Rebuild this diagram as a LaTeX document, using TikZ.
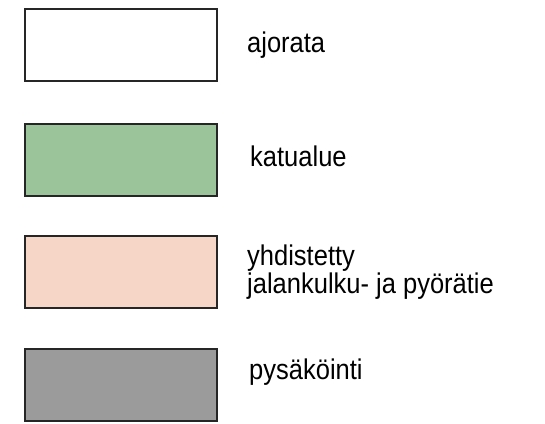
\documentclass[tikz,border=0pt]{standalone}
\usepackage{fontspec}
\setmainfont{Liberation Sans}
\usepackage{tikz}
\definecolor{ajorataFill}{HTML}{FFFFFF}
\definecolor{katualueFill}{HTML}{9CC49B}
\definecolor{pyoratieFill}{HTML}{F6D7C7}
\definecolor{pysakointiFill}{HTML}{9B9B9B}
\colorlet{swatchEdge}{black!85}
\newcommand\narrowText[1]{\scalebox{0.895}[1]{#1}}
\begin{document}
\begin{tikzpicture}[
  x=1pt, y=-1pt,
  swatch/.style={draw=swatchEdge, line width=2pt, rectangle,
    minimum width=192pt, minimum height=72pt, inner sep=0pt},
  legendText/.style={anchor=base west, inner sep=0pt, align=left,
    font=\fontsize{28.5}{25.6}\selectfont}
]
\useasboundingbox (0,0) rectangle (545,423);
% swatches
\node[swatch, fill=ajorataFill] (ajorata) at (121,45) {};
\node[swatch, fill=katualueFill] (katualue) at (121,160) {};
\node[swatch, fill=pyoratieFill] (pyoratie) at (121,272) {};
\node[swatch, fill=pysakointiFill] (pysakointi) at (121,385) {};
% labels
\node[legendText] (ajorataText) at (247,52.3) {\narrowText{ajorata}};
\node[legendText] (katualueText) at (250,166.7) {\narrowText{katualue}};
\node[legendText] (pyoratieText) at (247,293.3)
  {\narrowText{yhdistetty}\\\narrowText{jalankulku- ja pyörätie}};
\node[legendText] (pysakointiText) at (249,379.3) {\narrowText{pysäköinti}};
\end{tikzpicture}
\end{document}
